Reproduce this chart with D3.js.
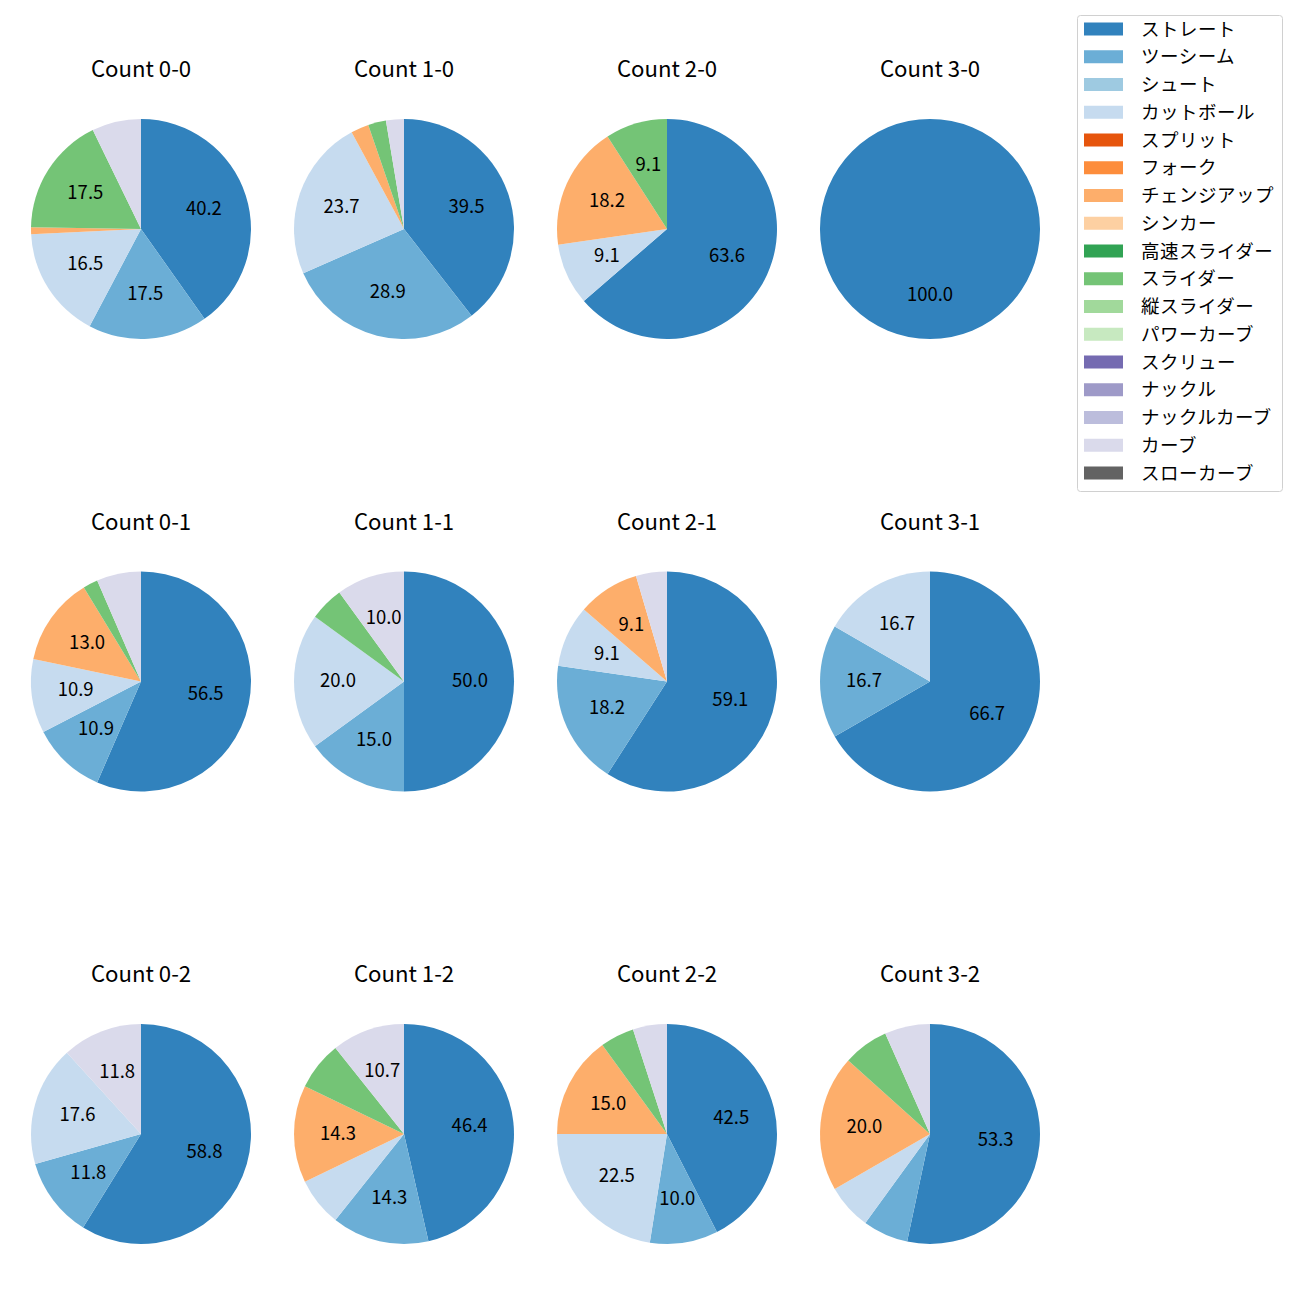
<!DOCTYPE html>
<html><head><meta charset="utf-8">
<script src="https://cdn.jsdelivr.net/npm/d3@7"></script>
<style>body{margin:0;background:#fff;} text{font-family:"Noto Sans CJK JP","Noto Sans",sans-serif;}</style>
</head><body>
<svg id="c" width="1300" height="1300"></svg>
<script>
const pitchTypes = ["ストレート","ツーシーム","シュート","カットボール","スプリット","フォーク","チェンジアップ","シンカー","高速スライダー","スライダー","縦スライダー","パワーカーブ","スクリュー","ナックル","ナックルカーブ","カーブ","スローカーブ"];
const pitchColors = ["#3182bd","#6baed6","#9ecae1","#c6dbef","#e6550d","#fd8d3c","#fdae6b","#fdd0a2","#31a354","#74c476","#a1d99b","#c7e9c0","#756bb1","#9e9ac8","#bcbddc","#dadaeb","#636363"];
const titles = ["Count 0-0","Count 1-0","Count 2-0","Count 3-0","Count 0-1","Count 1-1","Count 2-1","Count 3-1","Count 0-2","Count 1-2","Count 2-2","Count 3-2"];
// pitch counts per pie, in pitchTypes order
const counts = [
  [39,17,0,16,0,0,1,0,0,17,0,0,0,0,0,7,0],
  [15,11,0,9,0,0,1,0,0,1,0,0,0,0,0,1,0],
  [7,0,0,1,0,0,2,0,0,1,0,0,0,0,0,0,0],
  [1,0,0,0,0,0,0,0,0,0,0,0,0,0,0,0,0],
  [26,5,0,5,0,0,6,0,0,1,0,0,0,0,0,3,0],
  [10,3,0,4,0,0,0,0,0,1,0,0,0,0,0,2,0],
  [13,4,0,2,0,0,2,0,0,0,0,0,0,0,0,1,0],
  [4,1,0,1,0,0,0,0,0,0,0,0,0,0,0,0,0],
  [10,2,0,3,0,0,0,0,0,0,0,0,0,0,0,2,0],
  [13,4,0,2,0,0,4,0,0,2,0,0,0,0,0,3,0],
  [17,4,0,9,0,0,6,0,0,2,0,0,0,0,0,2,0],
  [8,1,0,1,0,0,3,0,0,1,0,0,0,0,0,1,0]
];

const svg = d3.select("#c");
const color = d3.scaleOrdinal().domain(pitchTypes).range(pitchColors);
const colX = d3.scalePoint().domain([0,1,2,3]).range([141,930]);
const rowY = d3.scalePoint().domain([0,1,2]).range([229,1134]);
const R = 110;
const pie = d3.pie().sort(null).value(d=>d.v).startAngle(0).endAngle(2*Math.PI);
const arc = d3.arc().innerRadius(0).outerRadius(R);
const labelArc = d3.arc().innerRadius(R*0.6).outerRadius(R*0.6);

counts.forEach((row,i)=>{
  const cx = colX(i%4), cy = rowY(Math.floor(i/4));
  const total = d3.sum(row);
  const data = pitchTypes.map((t,k)=>({t, v: row[k]})).filter(d=>d.v>0);
  const g = svg.append("g").attr("transform",`translate(${cx},${cy})`);
  const arcs = pie(data);
  g.selectAll("path").data(arcs).join("path")
    .attr("d",arc).attr("fill",d=>color(d.data.t));
  g.selectAll("text.lbl").data(arcs.filter(d=>d.data.v/total*100>=8)).join("text")
    .attr("class","lbl")
    .attr("transform",d=>{ const c=labelArc.centroid(d); return `translate(${c[0]},${c[1]-2.5})`;})
    .attr("text-anchor","middle").attr("dominant-baseline","central")
    .attr("font-size","18.5px").attr("fill","#000")
    .text(d=>(d.data.v/total*100).toFixed(1));
  g.append("text").attr("x",0).attr("y",-R-52).attr("text-anchor","middle")
    .attr("dominant-baseline","central").attr("font-size","22.2px").attr("fill","#000")
    .text(titles[i]);
});

// legend
const lg = svg.append("g");
lg.append("rect").attr("x",1077.5).attr("y",15.5).attr("width",205).attr("height",476)
  .attr("rx",3).attr("fill","#fff").attr("stroke","#d0d0d0").attr("stroke-width",1);
const ly = d3.scaleLinear().domain([0,16]).range([29,473]);
pitchTypes.forEach((t,k)=>{
  lg.append("rect").attr("x",1084).attr("y",ly(k)-6.5).attr("width",39).attr("height",13).attr("fill",color(t));
  lg.append("text").attr("x",1141).attr("y",ly(k)-1.5).attr("dominant-baseline","central")
    .attr("font-size","18.5px").attr("letter-spacing","0.5px").attr("fill","#000").text(t);
});
</script>
</body></html>
